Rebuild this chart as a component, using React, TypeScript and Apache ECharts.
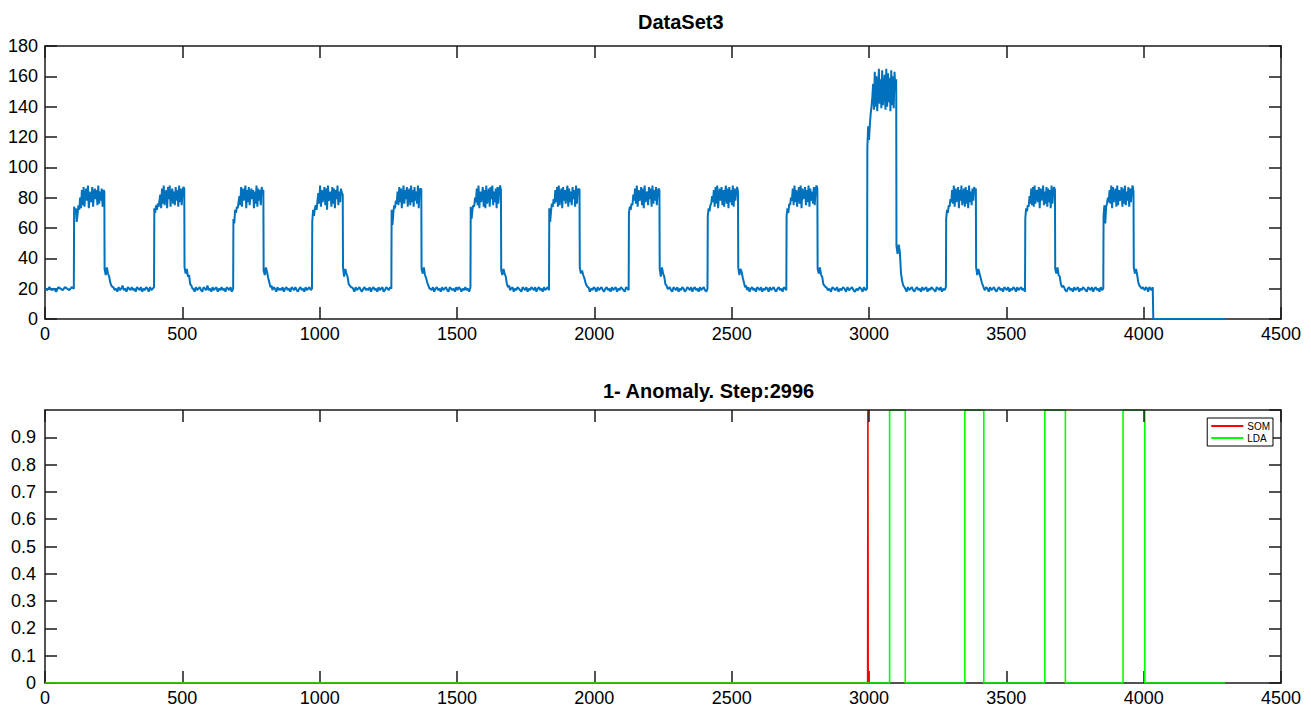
import React, { useEffect, useRef } from "react";
import * as echarts from "echarts";

// ---------- DATA ----------
// step at which each normal/anomalous pulse rises and falls (top panel)
const riseAt = [106, 398, 686, 973, 1262, 1550, 1836, 2126, 2413, 2700, 2994, 3281, 3569, 3854];
const fallAt = [216, 507, 795, 1084, 1370, 1660, 1946, 2237, 2523, 2812, 3099, 3389, 3677, 3963];

// plateau values read from each pulse (from rise to fall)
const plateau01 = [74, 71, 73, 64, 69, 75, 72, 80, 73, 85, 75, 87, 74, 82, 86, 78, 88, 73, 80, 84, 77, 87, 74, 83, 86, 79, 85, 75, 88, 76, 84, 78, 86, 74, 85, 84];
const plateau02 = [73, 70, 75, 72, 76, 74, 78, 82, 73, 86, 76, 88, 75, 81, 85, 73, 87, 79, 88, 74, 83, 86, 76, 84, 75, 87, 78, 85, 74, 88, 77, 86, 75, 84, 87, 86];
const plateau03 = [66, 63, 72, 70, 74, 73, 77, 81, 75, 87, 74, 86, 78, 83, 88, 73, 85, 77, 87, 75, 82, 86, 79, 85, 73, 84, 76, 88, 74, 86, 78, 85, 75, 87, 84, 85];
const plateau04 = [64, 72, 68, 73, 75, 72, 78, 83, 76, 88, 74, 85, 77, 82, 87, 75, 86, 72, 88, 78, 81, 84, 74, 87, 76, 86, 73, 85, 79, 88, 75, 84, 77, 86, 83, 82];
const plateau05 = [72, 62, 70, 75, 73, 78, 76, 84, 75, 87, 77, 86, 73, 81, 88, 76, 85, 79, 87, 74, 83, 86, 75, 88, 77, 85, 74, 87, 78, 84, 76, 88, 73, 86, 85, 86];
const plateau06 = [74, 66, 72, 75, 74, 80, 77, 86, 75, 88, 73, 84, 77, 82, 87, 74, 85, 73, 88, 76, 81, 86, 74, 87, 79, 88, 75, 84, 77, 86, 73, 87, 76, 85, 88, 85];
const plateau07 = [73, 64, 71, 76, 74, 79, 76, 85, 77, 87, 74, 88, 75, 82, 86, 73, 87, 78, 85, 76, 83, 88, 74, 86, 77, 84, 75, 87, 79, 85, 74, 88, 76, 86, 84, 86];
const plateau08 = [70, 74, 72, 76, 75, 82, 78, 86, 76, 88, 74, 85, 78, 81, 87, 75, 86, 73, 88, 77, 82, 84, 75, 87, 79, 86, 74, 88, 76, 85, 78, 87, 75, 84, 86, 85];
const plateau09 = [68, 73, 71, 75, 76, 81, 77, 85, 74, 87, 76, 88, 73, 82, 86, 78, 87, 75, 85, 74, 83, 88, 76, 86, 73, 87, 77, 85, 75, 88, 74, 86, 78, 84, 87, 84];
const plateau10 = [68, 73, 70, 76, 75, 80, 78, 86, 75, 88, 77, 85, 74, 81, 87, 76, 88, 73, 86, 79, 82, 87, 75, 85, 77, 88, 74, 86, 78, 84, 76, 87, 75, 85, 88, 86];
const plateau11 = [113, 127, 118, 128, 135, 140, 146, 155, 138, 163, 140, 160, 137, 150, 165, 142, 158, 139, 164, 141, 152, 161, 138, 165, 140, 162, 143, 159, 137, 164, 141, 160, 139, 163, 150, 158];
const plateau12 = [66, 72, 70, 75, 74, 79, 77, 85, 76, 88, 74, 86, 77, 82, 87, 73, 85, 78, 88, 75, 81, 86, 74, 87, 76, 85, 73, 88, 77, 84, 75, 86, 78, 87, 85, 86];
const plateau13 = [66, 73, 71, 75, 74, 81, 76, 86, 75, 87, 74, 88, 76, 83, 85, 77, 87, 73, 86, 78, 82, 88, 75, 84, 76, 87, 74, 86, 77, 85, 73, 88, 76, 84, 87, 85];
const plateau14 = [68, 75, 63, 74, 76, 80, 77, 85, 76, 88, 73, 87, 77, 82, 86, 74, 88, 75, 85, 78, 81, 87, 74, 86, 76, 88, 75, 84, 78, 87, 74, 86, 77, 85, 88, 84];

// short decay right after each fall
const tail01 = [33, 29, 34, 30, 28, 24, 22, 21];
const tail02 = [34, 30, 33, 28, 29, 23, 22, 20];
const tail03 = [32, 29, 34, 31, 27, 24, 21, 22];
const tail04 = [34, 28, 33, 30, 28, 23, 22, 21];
const tail05 = [33, 30, 34, 29, 27, 24, 22, 20];
const tail06 = [32, 29, 33, 30, 28, 23, 21, 22];
const tail07 = [34, 30, 32, 29, 27, 24, 22, 21];
const tail08 = [33, 28, 34, 30, 28, 23, 22, 20];
const tail09 = [34, 29, 33, 31, 27, 24, 21, 22];
const tail10 = [33, 30, 34, 29, 28, 23, 22, 21];
const tail11 = [48, 43, 49, 44, 30, 25, 22, 21];
const tail12 = [34, 29, 33, 30, 27, 24, 22, 20];
const tail13 = [33, 30, 34, 29, 28, 23, 21, 22];
const tail14 = [34, 30, 33, 29, 24, 22, 21, 20];

// baseline noise between pulses
const gap00 = [20, 19, 21, 19, 20, 18, 21, 20, 19, 21, 20, 19, 21, 20];
const gap01 = [21, 19, 20, 18, 21, 19, 20, 22, 19, 20, 18, 21, 20, 19, 21, 19, 20, 18, 21, 20, 19, 21, 18, 20, 19, 21, 20, 18, 21, 19, 20, 21];
const gap02 = [20, 18, 21, 19, 20, 21, 19, 18, 21, 20, 19, 22, 19, 20, 18, 21, 19, 20, 21, 18, 20, 19, 21, 19, 20, 18, 21, 20, 19, 21, 18, 20];
const gap03 = [19, 21, 20, 18, 21, 19, 20, 19, 21, 18, 20, 21, 19, 20, 18, 21, 20, 19, 21, 19, 18, 20, 21, 19, 20, 18, 21, 19, 20, 21, 19, 20];
const gap04 = [21, 20, 18, 21, 19, 20, 21, 19, 18, 20, 21, 19, 20, 19, 21, 18, 20, 21, 19, 20, 18, 21, 19, 20, 21, 18, 19, 21, 20, 19, 21, 20];
const gap05 = [20, 19, 21, 18, 20, 21, 19, 20, 18, 21, 19, 20, 21, 19, 18, 21, 20, 19, 20, 18, 21, 19, 21, 20, 18, 20, 19, 21, 19, 20, 18, 21];
const gap06 = [19, 20, 21, 18, 20, 19, 21, 20, 19, 18, 21, 20, 19, 21, 18, 20, 19, 21, 20, 19, 21, 18, 20, 21, 19, 20, 18, 21, 19, 20, 21, 19];
const gap07 = [21, 18, 20, 19, 21, 20, 18, 21, 19, 20, 21, 19, 18, 20, 21, 19, 20, 18, 21, 19, 20, 21, 18, 20, 19, 21, 20, 19, 18, 21, 20, 19];
const gap08 = [20, 21, 19, 18, 21, 20, 19, 21, 18, 20, 19, 21, 20, 18, 19, 21, 20, 19, 21, 18, 20, 21, 19, 20, 18, 21, 19, 20, 21, 19, 18, 20];
const gap09 = [19, 21, 18, 20, 21, 19, 20, 18, 21, 20, 19, 21, 18, 20, 19, 21, 20, 18, 21, 19, 20, 21, 19, 18, 20, 21, 19, 20, 18, 21, 20, 19];
const gap10 = [21, 19, 20, 18, 21, 20, 19, 21, 18, 20, 19, 21, 20, 18, 21, 19, 20, 21, 19, 18, 20, 19, 21, 20, 18, 21, 19, 20];
const gap11 = [20, 18, 21, 19, 20, 21, 19, 18, 20, 21, 19, 20, 18, 21, 19, 20, 21, 18, 20, 19, 21, 20, 19, 18, 21, 20, 19, 21, 18, 20, 19, 21];
const gap12 = [19, 21, 20, 18, 21, 19, 20, 21, 19, 18, 20, 21, 19, 20, 18, 21, 20, 19, 21, 18, 20, 19, 21, 20, 18, 21, 19, 20, 21, 19, 20, 18];
const gap13 = [21, 19, 18, 20, 21, 19, 20, 18, 21, 19, 20, 21, 18, 20, 19, 21, 20, 19, 18, 21, 20, 19, 21, 18, 20, 21, 19, 20, 18, 21, 19, 20];
const gap14 = [21, 20, 19, 21, 20, 18, 21, 20, 19, 21];

// after the last baseline the signal drops to zero
const baseEndStep = 4033;
const zeroStartStep = 4035;
const lastStep = 4300;
const zeroValues = [0, 0];
const tailSpan = 30;

// bottom panel: anomaly flags
const somSteps = [0, 2995, 2996, 2997];
const somValues = [0, 0, 1, 0];
const ldaSteps = [0, 3075, 3075, 3132, 3132, 3349, 3349, 3418, 3418, 3640, 3640, 3715, 3715, 3925, 3925, 4004, 4004, 4297];
const ldaValues = [0, 0, 1, 1, 0, 0, 1, 1, 0, 0, 1, 1, 0, 0, 1, 1, 0, 0];

const plateaus = [plateau01, plateau02, plateau03, plateau04, plateau05, plateau06, plateau07, plateau08, plateau09, plateau10, plateau11, plateau12, plateau13, plateau14];
const tails = [tail01, tail02, tail03, tail04, tail05, tail06, tail07, tail08, tail09, tail10, tail11, tail12, tail13, tail14];
const gaps = [gap00, gap01, gap02, gap03, gap04, gap05, gap06, gap07, gap08, gap09, gap10, gap11, gap12, gap13, gap14];

function spread(values: number[], x0: number, x1: number): number[][] {
  const n = values.length;
  return values.map((v, i) => [n === 1 ? x0 : x0 + ((x1 - x0) * i) / (n - 1), v]);
}

function buildSignal(): number[][] {
  const out: number[][] = [];
  out.push(...spread(gaps[0], 0, riseAt[0] - 1));
  for (let k = 0; k < riseAt.length; k++) {
    out.push(...spread(plateaus[k], riseAt[k], fallAt[k]));
    out.push(...spread(tails[k], fallAt[k] + 1, fallAt[k] + tailSpan));
    const gEnd = k < riseAt.length - 1 ? riseAt[k + 1] - 1 : baseEndStep;
    out.push(...spread(gaps[k + 1], fallAt[k] + tailSpan + 3, gEnd));
  }
  out.push(...spread(zeroValues, zeroStartStep, lastStep));
  return out;
}

const FONT = "'Liberation Sans', Arial, Helvetica, sans-serif";
const AXIS_COLOR = "#1a1a1a";

export default function App() {
  const ref = useRef<HTMLDivElement>(null);
  useEffect(() => {
    document.body.style.margin = "0";
    if (!ref.current) return;
    const chart = echarts.init(ref.current, undefined, { renderer: "svg" });
    const signal = buildSignal();
    const som = somSteps.map((s, i) => [s, somValues[i]]);
    const lda = ldaSteps.map((s, i) => [s, ldaValues[i]]);

    const lineAxis = { show: true, lineStyle: { color: AXIS_COLOR, width: 1.5 } };
    const tickIn = { show: true, inside: true, length: 12, lineStyle: { color: AXIS_COLOR, width: 1.5 } };
    const label = { color: "#000", fontSize: 18, fontFamily: FONT, formatter: (v: number) => String(v) };

    const mkX = (grid: number, pos: "top" | "bottom", withLabels: boolean, z: number) => ({
      type: "value",
      gridIndex: grid,
      position: pos,
      min: 0,
      max: 4500,
      interval: 500,
      z,
      axisLine: { ...lineAxis, onZero: false },
      axisTick: tickIn,
      axisLabel: withLabels ? { ...label, margin: 6 } : { show: false },
      splitLine: { show: false },
    });
    const mkY = (grid: number, pos: "left" | "right", max: number, interval: number, withLabels: boolean, margin: number) => ({
      type: "value",
      gridIndex: grid,
      position: pos,
      min: 0,
      max,
      interval,
      axisLine: { ...lineAxis, onZero: false },
      axisTick: tickIn,
      axisLabel: withLabels ? { ...label, margin, showMaxLabel: max === 1 ? false : true } : { show: false },
      splitLine: { show: false },
    });

    chart.setOption({
      animation: false,
      backgroundColor: "#fff",
      textStyle: { fontFamily: FONT },
      grid: [
        { left: 45, right: 30, top: 46, height: 273 },
        { left: 45, right: 30, top: 410, height: 273 },
      ],
      xAxis: [
        mkX(0, "bottom", true, 0),
        mkX(0, "top", false, 10),
        mkX(1, "bottom", true, 0),
        mkX(1, "top", false, 10),
      ],
      yAxis: [
        mkY(0, "left", 180, 20, true, 7),
        mkY(0, "right", 180, 20, false, 7),
        mkY(1, "left", 1, 0.1, true, 9),
        mkY(1, "right", 1, 0.1, false, 9),
      ],
      legend: {
        data: ["SOM", "LDA"],
        orient: "vertical",
        right: 38,
        top: 418,
        icon: "rect",
        itemWidth: 32,
        itemHeight: 2,
        itemGap: 2,
        padding: [3, 3, 3, 4],
        borderColor: "#000",
        borderWidth: 1,
        backgroundColor: "#fff",
        textStyle: { fontSize: 10, color: "#000", fontFamily: FONT, padding: [0, 0, 0, -1] },
      },
      graphic: [
        {
          type: "text",
          x: 638,
          y: 22,
          style: { text: "DataSet3", font: `bold 20px ${FONT}`, fill: "#000", align: "left", verticalAlign: "middle" },
        },
        {
          type: "text",
          x: 603,
          y: 391,
          style: { text: "1- Anomaly. Step:2996", font: `bold 20px ${FONT}`, fill: "#000", align: "left", verticalAlign: "middle" },
        },
      ],
      series: [
        {
          name: "DataSet3",
          type: "line",
          xAxisIndex: 0,
          yAxisIndex: 0,
          data: signal,
          symbol: "none",
          lineStyle: { color: "#0072BD", width: 2 },
          itemStyle: { color: "#0072BD" },
        },
        {
          name: "SOM",
          type: "line",
          xAxisIndex: 2,
          yAxisIndex: 2,
          data: som,
          symbol: "none",
          lineStyle: { color: "#ff0000", width: 1.6 },
          itemStyle: { color: "#ff0000" },
        },
        {
          name: "LDA",
          type: "line",
          xAxisIndex: 2,
          yAxisIndex: 2,
          data: lda,
          symbol: "none",
          lineStyle: { color: "#00ff00", width: 1.6 },
          itemStyle: { color: "#00ff00" },
        },
      ],
    });
    return () => chart.dispose();
  }, []);
  return <div ref={ref} style={{ width: 1311, height: 708 }} />;
}
